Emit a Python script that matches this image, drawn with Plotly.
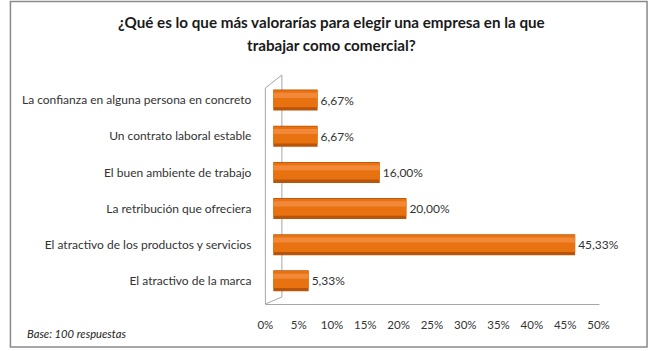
import plotly.graph_objects as go

categories = [
    "La confianza en alguna persona en concreto",
    "Un contrato laboral estable",
    "El buen ambiente de trabajo",
    "La retribución que ofreciera",
    "El atractivo de los productos y servicios",
    "El atractivo de la marca",
]
values = [6.67, 6.67, 16.00, 20.00, 45.33, 5.33]
tick_values = [0, 5, 10, 15, 20, 25, 30, 35, 40, 45, 50]
tick_labels = [f"{t}%" for t in tick_values]
value_labels = [f"{v:.2f}".replace(".", ",") + "%" for v in values]
title_lines = ["¿Qué es lo que más valorarías para elegir una empresa en la que",
               "trabajar como comercial?"]

W, H = 660, 351
px = lambda x: x / W
py = lambda y: 1 - y / H

FONT = "Lato"

fig = go.Figure()
# invisible trace so the visible tick axis (x) is drawn
fig.add_trace(go.Scatter(x=values, y=categories, xaxis="x", yaxis="y", mode="markers",
                         marker=dict(opacity=0), hoverinfo="skip", showlegend=False))
# cylinder look: dark body, orange core, light highlight
fig.add_trace(go.Bar(y=categories, x=values, orientation="h", xaxis="x2", yaxis="y",
                     width=0.58, marker=dict(color="#B8550A", line=dict(width=0)),
                     text=value_labels, textposition="outside", cliponaxis=False,
                     constraintext="none",
                     textfont=dict(family=FONT, size=12, color="#333333"),
                     hoverinfo="skip", showlegend=False))
fig.add_trace(go.Bar(y=categories, x=values, orientation="h", xaxis="x2", yaxis="y",
                     width=0.47, offset=-0.27, marker=dict(color="#E8720F", line=dict(width=0)),
                     hoverinfo="skip", showlegend=False))
fig.add_trace(go.Bar(y=categories, x=values, orientation="h", xaxis="x2", yaxis="y",
                     width=0.14, offset=-0.2, marker=dict(color="#F2893A", line=dict(width=0)),
                     hoverinfo="skip", showlegend=False))

fig.update_layout(
    width=W, height=H,
    margin=dict(l=0, r=0, t=0, b=0),
    paper_bgcolor="white", plot_bgcolor="rgba(0,0,0,0)",
    barmode="overlay",
    font=dict(family=FONT, color="#333333"),
    xaxis=dict(domain=[px(265), px(608)], range=[0, 50], tickvals=tick_values,
               ticktext=tick_labels, showgrid=False, zeroline=False, showline=False,
               ticks="", ticklabelstandoff=12, anchor="y",
               tickfont=dict(family=FONT, size=11.5, color="#333333"), fixedrange=True),
    xaxis2=dict(domain=[px(273), px(616)], range=[0, 50], visible=False, anchor="y",
                fixedrange=True),
    yaxis=dict(domain=[py(304), py(82)], range=[5.64, -0.5], showgrid=False,
               zeroline=False, showline=False, ticks="", ticklabelstandoff=13,
               tickfont=dict(family=FONT, size=12, color="#333333"), anchor="x",
               fixedrange=True),
    annotations=[
        dict(text="<b>" + title_lines[0] + "</b>", x=px(333), y=py(22), xref="paper", yref="paper",
             xanchor="center", yanchor="middle", showarrow=False,
             font=dict(family=FONT, size=15.2, color="#1a1a1a")),
        dict(text="<b>" + title_lines[1] + "</b>", x=px(333), y=py(45), xref="paper", yref="paper",
             xanchor="center", yanchor="middle", showarrow=False,
             font=dict(family=FONT, size=15.2, color="#1a1a1a")),
        dict(text="<i>Base: 100 respuestas</i>", x=px(18), y=py(333),
             xref="paper", yref="paper", xanchor="left", yanchor="middle",
             showarrow=False, font=dict(family=FONT, size=11.2, color="#222222")),
    ],
    shapes=[
        dict(type="rect", xref="paper", yref="paper", x0=px(2.5), x1=px(658), y0=py(347), y1=py(1.5),
             line=dict(color="#8a8a8a", width=1.5), layer="below"),
        # 3D wall / floor lines
        dict(type="line", xref="paper", yref="paper", x0=px(265), x1=px(265), y0=py(304), y1=py(88),
             line=dict(color="#a6a6a6", width=1), layer="below"),
        dict(type="line", xref="paper", yref="paper", x0=px(282), x1=px(282), y0=py(297), y1=py(75),
             line=dict(color="#a6a6a6", width=1), layer="below"),
        dict(type="line", xref="paper", yref="paper", x0=px(265), x1=px(282), y0=py(88), y1=py(75),
             line=dict(color="#a6a6a6", width=1), layer="below"),
        dict(type="line", xref="paper", yref="paper", x0=px(265), x1=px(282), y0=py(304), y1=py(297),
             line=dict(color="#a6a6a6", width=1), layer="below"),
        dict(type="line", xref="paper", yref="paper", x0=px(265), x1=px(609), y0=py(304.5), y1=py(304.5),
             line=dict(color="#a6a6a6", width=1), layer="below"),
    ],
)

fig.write_html("out.html", post_script=(
    "document.body.style.margin='0';document.body.style.padding='0';"
    "document.body.style.overflow='hidden';"
    "var gd=document.getElementsByClassName('plotly-graph-div')[0];"
    "gd.style.position='absolute';gd.style.left='0px';gd.style.top='0px';"))
